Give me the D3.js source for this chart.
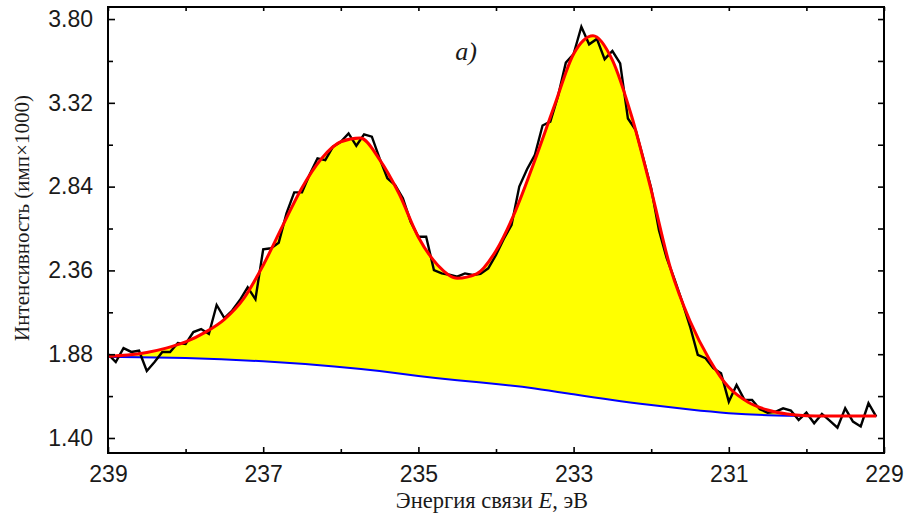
<!DOCTYPE html>
<html>
<head>
<meta charset="utf-8">
<script src="https://cdn.jsdelivr.net/npm/d3@7"></script>
<style>
    body { margin: 0; background: #fff; }
    svg { display: block; }
    .tick text { font-family: "Liberation Sans", Arial, sans-serif; font-size: 23px; fill: #1a1a1a; }
    .tick line { stroke: #000; stroke-width: 1.6; }
    .title { font-family: "Liberation Serif", "Times New Roman", serif; fill: #1a1a1a; }
</style>
</head>
<body>
<svg width="911" height="519"></svg>
<script>
// measured spectrum (binding energy, eV -> counts x1000)
const energies = [
    239.0, 238.9, 238.8, 238.7, 238.6, 238.5, 238.4, 238.3, 238.2, 238.1,
    238.0, 237.9, 237.8, 237.7, 237.6, 237.5, 237.4, 237.3, 237.2, 237.1,
    237.0, 236.9, 236.8, 236.7, 236.6, 236.5, 236.4, 236.3, 236.2, 236.1,
    236.0, 235.9, 235.8, 235.7, 235.6, 235.5, 235.4, 235.3, 235.2, 235.1,
    235.0, 234.9, 234.8, 234.7, 234.6, 234.5, 234.4, 234.3, 234.2, 234.1,
    234.0, 233.9, 233.8, 233.7, 233.6, 233.5, 233.4, 233.3, 233.2, 233.1,
    233.0, 232.9, 232.8, 232.7, 232.6, 232.5, 232.4, 232.3, 232.2, 232.1,
    232.0, 231.9, 231.8, 231.7, 231.6, 231.5, 231.4, 231.3, 231.2, 231.1,
    231.0, 230.9, 230.8, 230.7, 230.6, 230.5, 230.4, 230.3, 230.2, 230.1,
    230.0, 229.9, 229.8, 229.7, 229.6, 229.5, 229.4, 229.3, 229.2, 229.1
];
const counts = [
    1.880, 1.835, 1.915, 1.893, 1.900, 1.784, 1.835, 1.893, 1.893, 1.944,
    1.939, 2.007, 2.024, 1.996, 2.162, 2.087, 2.130, 2.190, 2.263, 2.195,
    2.481, 2.487, 2.519, 2.687, 2.807, 2.807, 2.911, 3.002, 2.992, 3.069,
    3.097, 3.145, 3.074, 3.139, 3.126, 3.002, 2.888, 2.849, 2.773, 2.639,
    2.553, 2.553, 2.362, 2.343, 2.335, 2.324, 2.343, 2.334, 2.340, 2.372,
    2.448, 2.540, 2.620, 2.840, 2.940, 3.020, 3.190, 3.212, 3.360, 3.550,
    3.600, 3.756, 3.655, 3.686, 3.570, 3.617, 3.546, 3.230, 3.164, 3.000,
    2.830, 2.590, 2.430, 2.310, 2.180, 2.040, 1.876, 1.857, 1.800, 1.771,
    1.608, 1.704, 1.620, 1.618, 1.565, 1.545, 1.550, 1.570, 1.557, 1.503,
    1.545, 1.484, 1.538, 1.500, 1.459, 1.570, 1.494, 1.466, 1.599, 1.522
];

// fitted envelope
const fitEnergies = [
    239.0, 238.75, 238.5, 238.25, 238.0, 237.75, 237.5, 237.25, 237.0, 236.75,
    236.5, 236.25, 236.0, 235.75, 235.5, 235.25, 235.0, 234.75, 234.5, 234.25,
    234.0, 233.75, 233.5, 233.25, 233.0, 232.75, 232.5, 232.25, 232.0, 231.75,
    231.5, 231.25, 231.0, 230.75, 230.5, 230.25, 230.0, 229.75, 229.5, 229.25, 229.1
];
const fitValues = [
    1.868, 1.875, 1.890, 1.915, 1.950, 2.005, 2.080, 2.200, 2.390, 2.615,
    2.834, 3.000, 3.097, 3.118, 2.995, 2.800, 2.550, 2.390, 2.315, 2.340,
    2.473, 2.700, 2.990, 3.300, 3.600, 3.705, 3.565, 3.240, 2.820, 2.370,
    2.070, 1.850, 1.690, 1.605, 1.560, 1.537, 1.528, 1.526, 1.526, 1.526, 1.526
];

// background (baseline)
const bgEnergies = [239.0, 238.0, 237.0, 236.0, 235.5, 235.0, 234.5, 234.0, 233.5, 233.0, 232.5, 232.0, 231.5, 231.0, 230.5, 230.0, 229.1];
const bgValues   = [1.864, 1.860, 1.842, 1.808, 1.784, 1.755, 1.730, 1.710, 1.686, 1.650, 1.616, 1.588, 1.562, 1.540, 1.529, 1.526, 1.526];

const xMajor = [239, 237, 235, 233, 231, 229];
const xMinor = [238, 236, 234, 232, 230];
const yMajor = [1.40, 1.88, 2.36, 2.84, 3.32, 3.80];
const yMinor = [1.64, 2.12, 2.60, 3.08, 3.56];

const svg = d3.select("svg");
const plotLeft = 108, plotRight = 884, plotTop = 7, plotBottom = 453;

const x = d3.scaleLinear().domain([239, 229]).range([plotLeft, plotRight]);
const y = d3.scaleLinear().domain([1.314, 3.869]).range([plotBottom, plotTop]);

const toPts = (es, vs) => es.map((e, i) => [x(e), y(vs[i])]);
const line = d3.line().curve(d3.curveMonotoneX);
const smooth = d3.line().curve(d3.curveBasis);

const fitPts = toPts(fitEnergies, fitValues);
const bgPts = toPts(bgEnergies, bgValues);

// yellow area between fit and background
const fillPath = line(fitPts) + smooth(bgPts.slice().reverse()).replace(/^M/, "L") + "Z";
svg.append("path").attr("d", fillPath).attr("fill", "#ffff00").attr("stroke", "none");

svg.append("path").attr("d", smooth(bgPts))
    .attr("fill", "none").attr("stroke", "#0000ff").attr("stroke-width", 2);

svg.append("path").attr("d", d3.line()(toPts(energies, counts)))
    .attr("fill", "none").attr("stroke", "#000").attr("stroke-width", 2.4)
    .attr("stroke-linejoin", "miter");

svg.append("path").attr("d", line(fitPts))
    .attr("fill", "none").attr("stroke", "#ff0000").attr("stroke-width", 3);

// axes
const fmt = d3.format(".2f");
svg.append("g").attr("transform", `translate(${plotLeft},0)`)
    .call(d3.axisLeft(y).tickValues(yMajor).tickSize(-7).tickPadding(15).tickFormat(fmt));
svg.append("g").attr("transform", `translate(${plotLeft},0)`)
    .call(d3.axisLeft(y).tickValues(yMinor).tickSize(-5).tickFormat(""));
svg.append("g").attr("transform", `translate(${plotRight},0)`)
    .call(d3.axisRight(y).tickValues(yMajor.concat(yMinor)).tickSize(-6).tickFormat(""));

svg.append("g").attr("transform", `translate(0,${plotBottom})`)
    .call(d3.axisBottom(x).tickValues(xMajor).tickSize(-6).tickPadding(13).tickFormat(d3.format("d")));
svg.append("g").attr("transform", `translate(0,${plotBottom})`)
    .call(d3.axisBottom(x).tickValues(xMinor).tickSize(-4).tickFormat(""));
svg.append("g").attr("transform", `translate(0,${plotTop})`)
    .call(d3.axisTop(x).tickValues(xMajor.concat(xMinor)).tickSize(-4).tickFormat(""));

svg.selectAll(".domain").remove();

svg.append("rect")
    .attr("x", plotLeft).attr("y", plotTop)
    .attr("width", plotRight - plotLeft).attr("height", plotBottom - plotTop)
    .attr("fill", "none").attr("stroke", "#000").attr("stroke-width", 2);

// titles
svg.append("text").attr("class", "title")
    .attr("x", 466).attr("y", 60)
    .attr("text-anchor", "middle")
    .style("font-size", "26px").style("font-style", "italic")
    .text("a)");

const xt = svg.append("text").attr("class", "title")
    .attr("x", 492).attr("y", 508)
    .attr("text-anchor", "middle")
    .style("font-size", "22.5px");
xt.append("tspan").text("Энергия связи ");
xt.append("tspan").style("font-style", "italic").text("E");
xt.append("tspan").text(", эВ");

svg.append("text").attr("class", "title")
    .attr("transform", "translate(29,218) rotate(-90)")
    .attr("text-anchor", "middle")
    .style("font-size", "21px")
    .text("Интенсивность (имп×1000)");
</script>
</body>
</html>
